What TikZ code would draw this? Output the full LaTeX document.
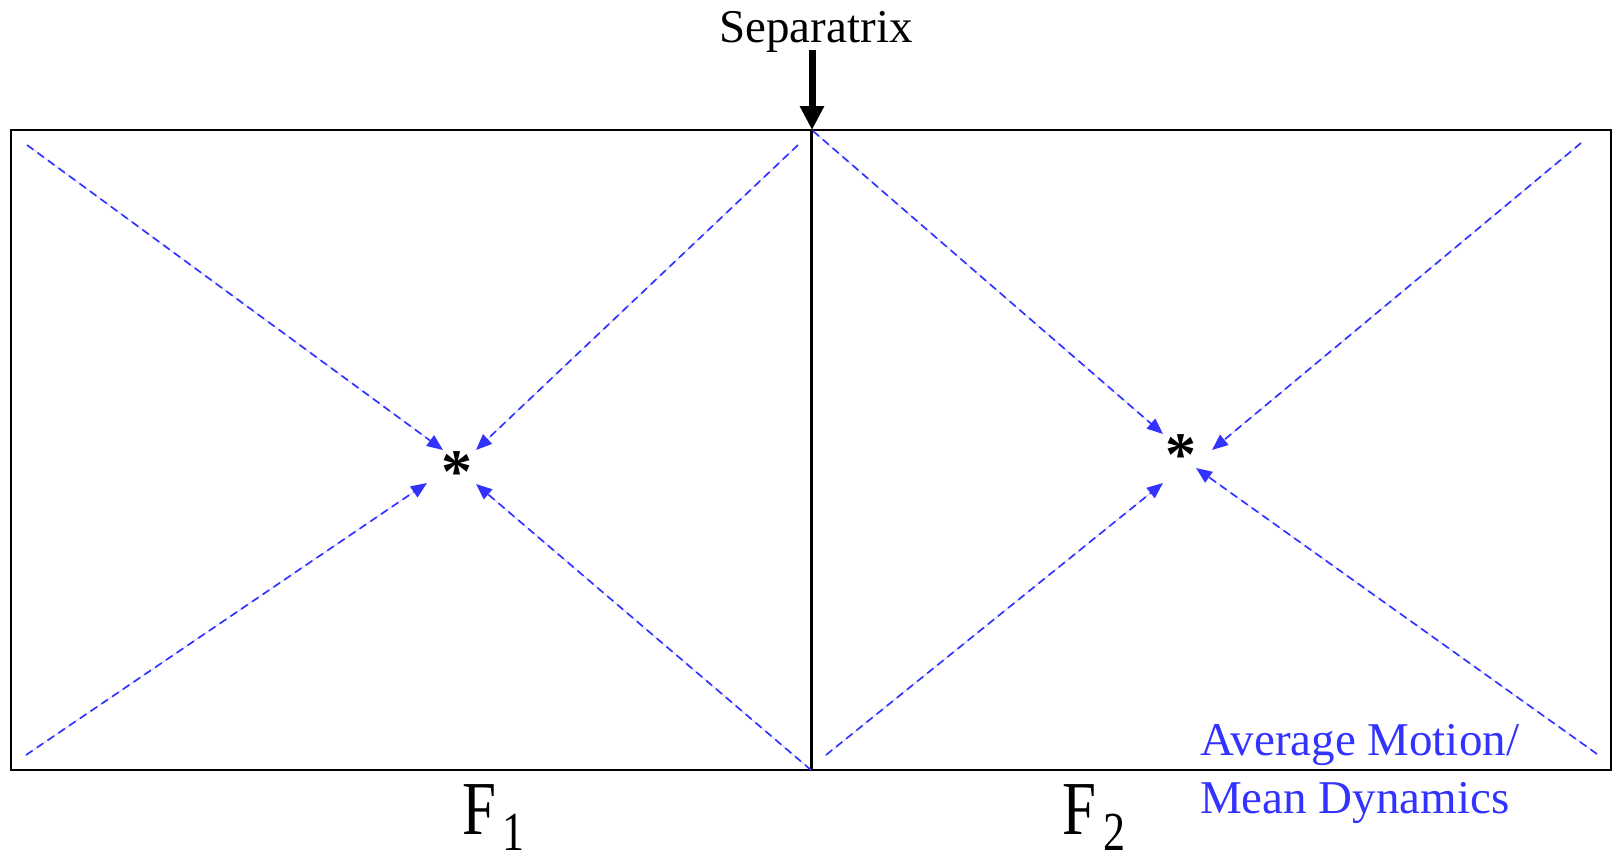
\documentclass[tikz,border=0pt]{standalone}
\usepackage{fontspec}
\setmainfont{Liberation Serif}
\usetikzlibrary{arrows.meta}
\definecolor{flowblue}{RGB}{51,51,255}
\tikzset{
  meanflow/.style={draw=flowblue, line width=1.7pt, dash pattern=on 8pt off 5pt, -{Triangle[length=16pt,width=13pt]}, fill=flowblue},
  starnode/.style={anchor=base, inner sep=0pt, font=\fontsize{62}{62}\selectfont\bfseries},
  flabel/.style={anchor=base west, inner sep=0pt},
  bluetext/.style={anchor=base west, inner sep=0pt, text=flowblue, font=\fontsize{47}{47}\selectfont},
}
\begin{document}
\begin{tikzpicture}[x=1pt,y=-1pt]
\useasboundingbox (0,0) rectangle (1615,857);
% frame and separatrix
\coordinate (tl) at (11,130);
\coordinate (br) at (1611,770);
\coordinate (septop) at (811,130);
\coordinate (sepbot) at (811,770);
\draw[line width=2pt] (tl) rectangle (br);
\draw[line width=3pt] (septop) -- (sepbot);
% separatrix label and arrow
\node[anchor=base, inner sep=0pt, font=\fontsize{47}{47}\selectfont] (sep) at (816,42) {Separatrix};
\coordinate (arrstart) at (812,50);
\coordinate (arrend) at (812,130);
\draw[line width=7pt, -{Triangle[length=24pt,width=23pt]}] (arrstart) -- (arrend);
% fixed points
\node[starnode] (s1) at (457,492) {*};
\node[starnode] (s2) at (1181,475) {*};
% left panel flows
\coordinate (l1s) at (27,145);   \coordinate (l1e) at (443,450);
\coordinate (l2s) at (798,145);  \coordinate (l2e) at (476,450);
\coordinate (l3s) at (26,755);   \coordinate (l3e) at (427,483);
\coordinate (l4s) at (811,770);  \coordinate (l4e) at (476,484);
\draw[meanflow] (l1s) -- (l1e);
\draw[meanflow] (l2s) -- (l2e);
\draw[meanflow] (l3s) -- (l3e);
\draw[meanflow] (l4s) -- (l4e);
% right panel flows
\coordinate (r1s) at (813,131);  \coordinate (r1e) at (1163,434);
\coordinate (r2s) at (1581,143); \coordinate (r2e) at (1212,450);
\coordinate (r3s) at (826,755);  \coordinate (r3e) at (1163,483);
\coordinate (r4s) at (1597,754); \coordinate (r4e) at (1196,468);
\draw[meanflow] (r1s) -- (r1e);
\draw[meanflow] (r2s) -- (r2e);
\draw[meanflow] (r3s) -- (r3e);
\draw[meanflow] (r4s) -- (r4e);
% region labels
\node[flabel] (f1) at (462,834) {\scalebox{1}[1.25]{\fontsize{61}{61}\selectfont F\kern6pt\raisebox{-13pt}{\fontsize{44}{44}\selectfont 1}}};
\node[flabel] (f2) at (1062,834) {\scalebox{1}[1.25]{\fontsize{61}{61}\selectfont F\kern7pt\raisebox{-13pt}{\fontsize{44}{44}\selectfont 2}}};
% legend
\node[bluetext] (leg1) at (1200,755) {Average Motion/};
\node[bluetext] (leg2) at (1200,813) {Mean Dynamics};
\end{tikzpicture}
\end{document}
